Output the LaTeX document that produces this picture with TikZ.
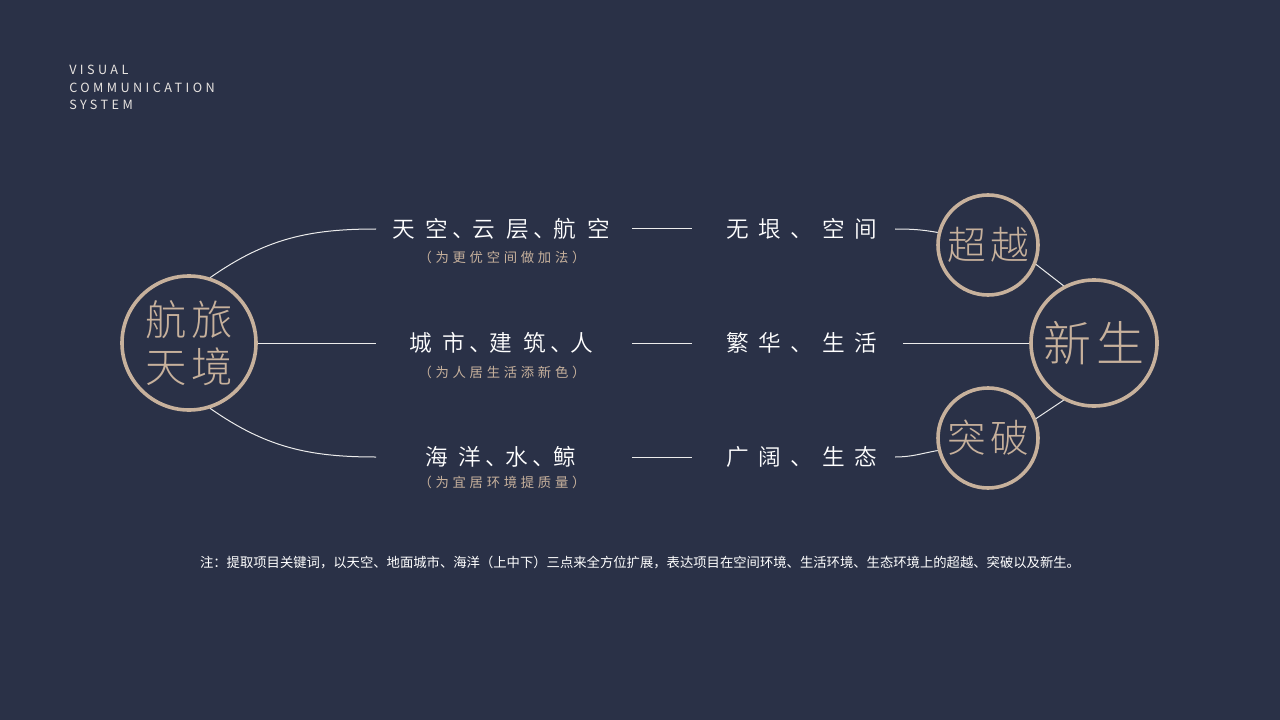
\documentclass[tikz,border=0pt]{standalone}
\usepackage{fontspec}
\setmainfont{Noto Sans CJK SC}
\IfFontExistsTF{Noto Sans CJK SC Light}{\newcommand\thinname{Noto Sans CJK SC Light}}{\newcommand\thinname{Noto Sans CJK SC}}
\IfFontExistsTF{Noto Sans CJK SC DemiLight}{\newcommand\deminame{Noto Sans CJK SC DemiLight}}{\newcommand\deminame{Noto Sans CJK SC}}
\newfontfamily\rowfont{\deminame}
\newfontfamily\pairfont[LetterSpace=41]{\deminame}
\newfontfamily\hintfont[LetterSpace=28]{Noto Sans CJK SC}
\newfontfamily\capfont[LetterSpace=27]{Noto Sans CJK SC}
\newfontfamily\ringfont[LetterSpace=12]{\thinname}
% spacing of the left keywords
\newcommand\gp{\hspace{0.48em}}
\newcommand\dn{\hspace{0.18em}、\hspace{-0.1em}}

\definecolor{navy}{RGB}{42,49,71}
\definecolor{sand}{RGB}{199,177,156}
\definecolor{chalk}{RGB}{236,236,236}

\tikzset{
  ring/.style={circle,draw=sand,fill=navy,line width=2.7pt,inner sep=0pt,text=sand,align=center},
  link/.style={draw=chalk,line width=0.75pt},
  keyword/.style={text=white,inner sep=0pt,anchor=west,font=\rowfont\fontsize{17}{20}\selectfont},
  pair/.style={text=white,inner sep=0pt,anchor=west,font=\pairfont\fontsize{17}{20}\selectfont},
  hint/.style={text=sand,inner sep=0pt,font=\hintfont\fontsize{10}{12}\selectfont},
  caption/.style={text=chalk!85!sand,inner sep=0pt,anchor=base west,font=\capfont\fontsize{9.5}{11}\selectfont}
}

\begin{document}
\begin{tikzpicture}[x=0.75pt,y=0.75pt,yscale=-1,xscale=1]
\fill[navy] (0,0) rectangle (1280,720);
\useasboundingbox (0,0) rectangle (1280,720);

% Text Node
\node[caption] (vcs1) at (69,75) {VISUAL};
\node[caption] (vcs2) at (69,93) {COMMUNICATION};
\node[caption] (vcs3) at (69,110) {SYSTEM};

%Shape: Circle
\node[ring,minimum size=100.5pt,font=\ringfont\fontsize{31}{35.25}\selectfont] (hl) at (189,343) {航旅\\天境};
\node[ring,minimum size=75pt,font=\ringfont\fontsize{29}{32}\selectfont] (cy) at (988,245) {超越};
\node[ring,minimum size=75pt,font=\ringfont\fontsize{29}{32}\selectfont] (tp) at (988,438) {突破};
\node[ring,minimum size=94.5pt,font=\ringfont\fontsize{36}{40}\selectfont] (xs) at (1094,343) {新生};

% Text Node
\node[keyword] (sky) at (392,229) {天\gp 空\dn 云\gp 层\dn 航\gp 空};
\node[keyword] (city) at (409,343) {城\gp 市\dn 建\gp 筑\dn 人};
\node[keyword] (sea) at (425,457) {海\gp 洋\dn 水\dn 鲸};
\node[hint] (skyhint) at (502,257) {（为更优空间做加法）};
\node[hint] (cityhint) at (502,372) {（为人居生活添新色）};
\node[hint] (seahint) at (502,482) {（为宜居环境提质量）};
\node[pair] (void) at (726,229) {无垠、空间};
\node[pair] (bustle) at (726,343) {繁华、生活};
\node[pair] (vast) at (726,457) {广阔、生态};

%Straight Lines
\coordinate (skyin) at (376,229);
\coordinate (cityin) at (376,343);
\coordinate (seain) at (376,457);
\draw[link] (hl.72) to[out=-35,in=180] (skyin);
\draw[link] (hl.east) -- (cityin);
\draw[link] (hl.-72) to[out=35,in=180] (seain);
\foreach \n/\y in {1/229,2/343,3/457}{
  \coordinate (dash\n a) at (632,\y);
  \coordinate (dash\n b) at (692,\y);
  \draw[link] (dash\n a) -- (dash\n b);
}
\coordinate (voidout) at (895,229);
\coordinate (bustleout) at (903,343);
\coordinate (vastout) at (895,457);
\draw[link] (voidout) to[out=0,in=190] (cy.166);
\draw[link] (bustleout) -- (xs.west);
\draw[link] (vastout) to[out=0,in=170] (tp.194);
\draw[link] (cy.-22) -- (xs.118);
\draw[link] (tp.22) -- (xs.-118);

% Text Node
\node[text=white,inner sep=0pt,font=\fontsize{10}{12}\selectfont] (note) at (640,563) {注：提取项目关键词，以天空、地面城市、海洋（上中下）三点来全方位扩展，表达项目在空间环境、生活环境、生态环境上的超越、突破以及新生。};

\end{tikzpicture}
\end{document}
